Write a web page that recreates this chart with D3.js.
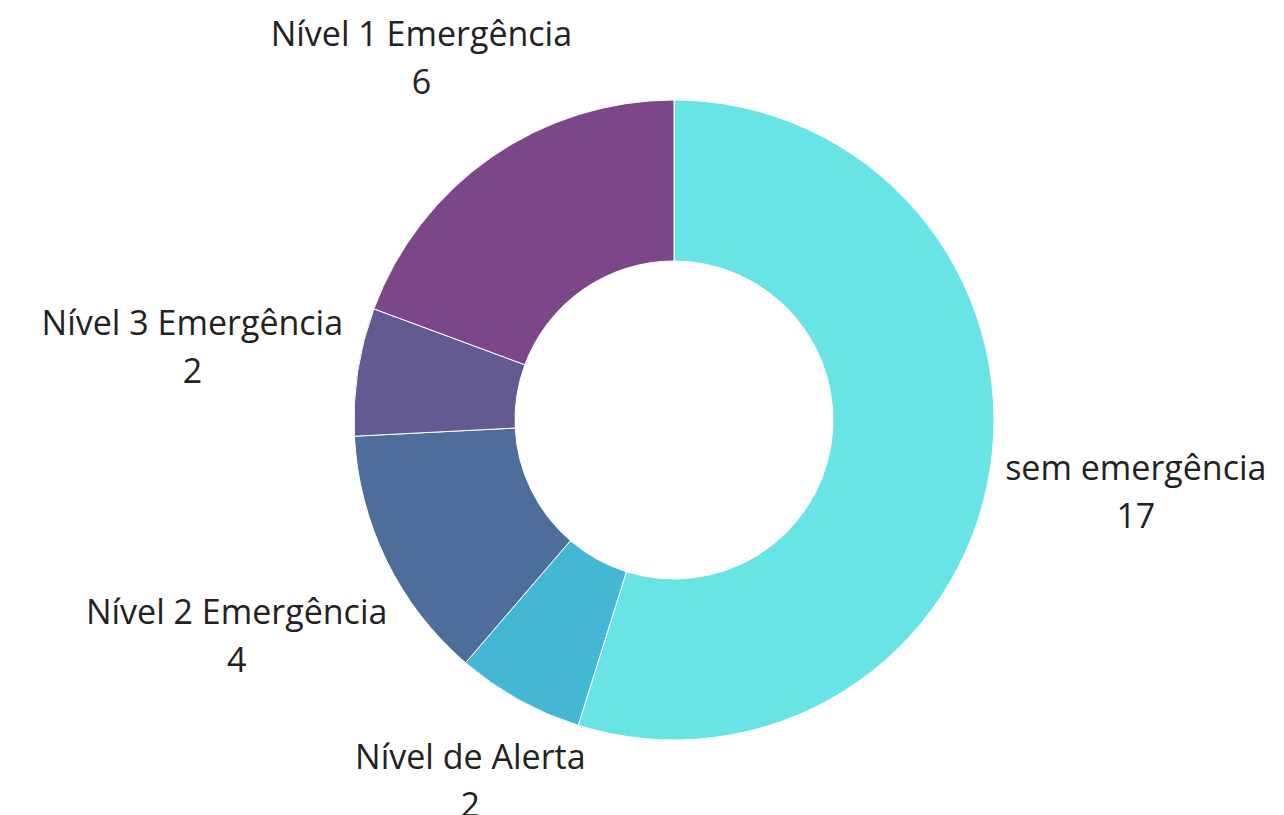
<!DOCTYPE html>
<html>
<head>
<meta charset="utf-8">
<script src="https://cdn.jsdelivr.net/npm/d3@7"></script>
<style>
  body { margin: 0; background: #fff; }
  svg { display: block; }
</style>
</head>
<body>
<div id="chart"></div>
<script>
// données du graphique
const categories = ["sem emergência", "Nível de Alerta", "Nível 2 Emergência", "Nível 3 Emergência", "Nível 1 Emergência"];
const values = [17, 2, 4, 2, 6];
const colors = ["#68e3e6", "#43b7d4", "#4d6e9a", "#635a92", "#7c4689"];

const width = 1284, height = 815;
const cx = 674, cy = 420;
const outerR = 320, innerR = 159;
const gap = 12;

const svg = d3.select("#chart")
  .append("svg")
  .attr("width", width)
  .attr("height", height);

const g = svg.append("g")
  .attr("transform", `translate(${cx},${cy})`);

const data = categories.map((c, i) => ({ name: c, value: values[i], color: colors[i] }));

const pie = d3.pie().sort(null).value(d => d.value);
const arc = d3.arc().outerRadius(outerR).innerRadius(innerR);

const slices = pie(data);

g.selectAll("path")
  .data(slices)
  .enter()
  .append("path")
  .attr("d", arc)
  .attr("fill", d => d.data.color)
  .attr("stroke", "#fff")
  .attr("stroke-width", 1);

// étiquettes : nom + valeur, placées le long de l'angle médian
const labels = g.selectAll("g.label")
  .data(slices)
  .enter()
  .append("g")
  .attr("class", "label");

const txt = labels.append("text")
  .attr("text-anchor", "middle")
  .style("font-family", "'Open Sans', sans-serif")
  .style("font-size", "34px")
  .style("fill", "#222");

txt.append("tspan").attr("x", 0).attr("y", 0).text(d => d.data.name);
txt.append("tspan").attr("x", 0).attr("y", 48).text(d => d.data.value);

labels.each(function(d) {
  const bb = this.getBBox();
  const a = (d.startAngle + d.endAngle) / 2;
  const dx = Math.sin(a), dy = -Math.cos(a);
  // distance du point le plus proche de la boîte au centre
  const nearest = t => {
    const x0 = dx * t - bb.width / 2, x1 = dx * t + bb.width / 2;
    const y0 = dy * t - bb.height / 2, y1 = dy * t + bb.height / 2;
    const nx = Math.max(x0, Math.min(0, x1));
    const ny = Math.max(y0, Math.min(0, y1));
    return Math.hypot(nx, ny);
  };
  let lo = 0, hi = 1000;
  for (let k = 0; k < 60; k++) {
    const mid = (lo + hi) / 2;
    if (nearest(mid) < outerR + gap) lo = mid; else hi = mid;
  }
  const t = hi;
  const bx = dx * t - (bb.x + bb.width / 2);
  let by = dy * t - (bb.y + bb.height / 2);
  // ne pas trop déborder en bas
  const maxBottom = height - cy + 12;
  if (by + bb.y + bb.height > maxBottom) by = maxBottom - bb.y - bb.height;
  d3.select(this).attr("transform", `translate(${bx},${by})`);
});
</script>
</body>
</html>
